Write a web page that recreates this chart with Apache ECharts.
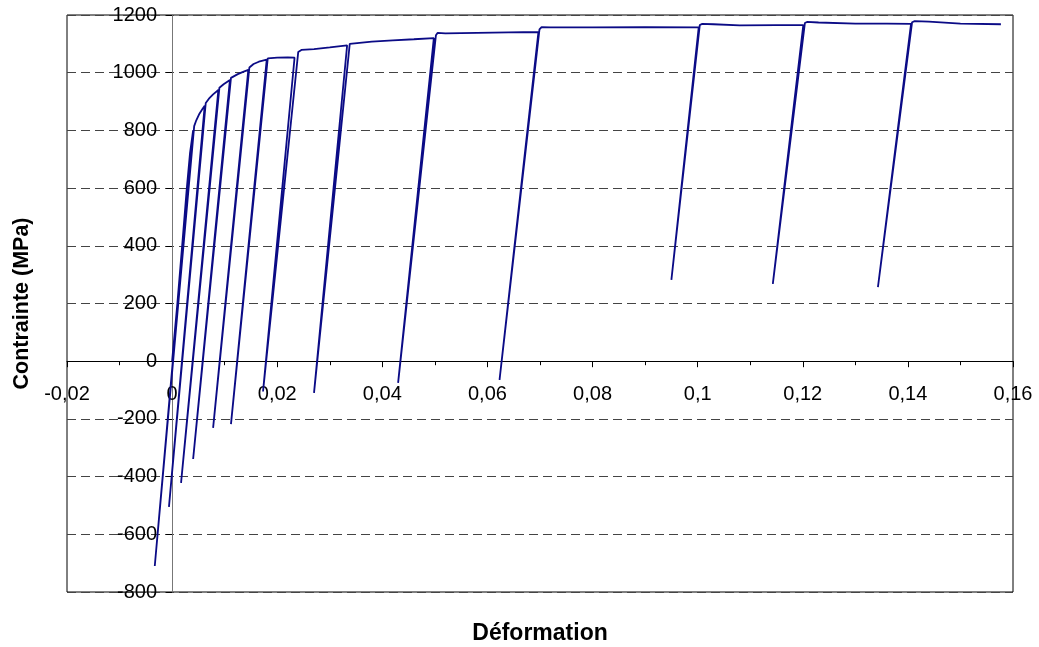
<!DOCTYPE html>
<html>
<head>
<meta charset="utf-8">
<script src="https://cdn.jsdelivr.net/npm/echarts@6/dist/echarts.min.js"></script>
<style>
html,body{margin:0;padding:0;background:#fff;}
#c{width:1039px;height:647px;}
</style>
</head>
<body>
<div id="c"></div>
<script>
// Strain (Déformation) and stress (Contrainte, MPa)
const strain = [
  0, 0.0010, 0.0020, 0.0028, 0.0034, 0.0040,
  -0.0033, 0.0042, 0.0046, 0.0052, 0.0058, 0.0062,
  -0.0006, 0.0064, 0.0070, 0.0078, 0.0088,
  0.0017, 0.0090, 0.0098, 0.0110,
  0.0040, 0.0112, 0.0125, 0.0135, 0.0145,
  0.0078, 0.0147, 0.0155, 0.0165, 0.0180,
  0.0112, 0.0182, 0.0200, 0.0220, 0.0233,
  0.0173, 0.0240, 0.0246, 0.0270, 0.0300, 0.0333,
  0.0270, 0.0338, 0.0341, 0.0380, 0.0420, 0.0460, 0.0498,
  0.0430, 0.0502, 0.0505, 0.0520, 0.0580, 0.0640, 0.0697,
  0.0623, 0.0699, 0.0703, 0.0720, 0.0800, 0.0900, 0.1002,
  0.0950, 0.1004, 0.1008, 0.1030, 0.1080, 0.1150, 0.1201,
  0.1143, 0.1204, 0.1208, 0.1230, 0.1300, 0.1360, 0.1406,
  0.1343, 0.1408, 0.1413, 0.1440, 0.1500, 0.1577
];
const stress = [
  0, 200, 420, 600, 720, 800,
  -710, 815, 835, 858, 875, 885,
  -505, 895, 910, 925, 940,
  -422, 948, 960, 975,
  -339, 982, 995, 1003, 1010,
  -231, 1018, 1030, 1038, 1045,
  -218, 1050, 1052, 1053, 1052,
  -105, 1072, 1079, 1082, 1088, 1095,
  -110, 1100, 1106, 1108, 1112, 1116, 1120,
  -75, 1130, 1138, 1136, 1138, 1140, 1141,
  -65, 1150, 1158, 1157, 1157, 1158, 1157,
  282, 1165, 1169, 1168, 1164, 1165, 1165,
  268, 1172, 1176, 1174, 1170, 1170, 1169,
  257, 1175, 1179, 1177, 1170, 1168
];
const xAxisTitle = 'Déformation';
const yAxisTitle = 'Contrainte (MPa)';
const X_MIN = -0.02, X_MAX = 0.16, X_STEP = 0.02;
const Y_MIN = -800, Y_MAX = 1200, Y_STEP = 200;

const points = strain.map((x, i) => [x, stress[i]]);
const FONT = '"Liberation Sans", Arial, sans-serif';
const fmtX = v => (Math.abs(v) < 1e-12 ? '0' : String(+v.toFixed(4)).replace('.', ','));
const fmtY = v => String(Math.round(v));

// plot box in pixels
const W = 1039, H = 647;
const L = 67, R = 26, T = 15, B = 55;
const plotW = W - L - R, plotH = H - T - B;
// pixel position of the zero lines (where the axes cross)
const zeroX = L + (0 - X_MIN) / (X_MAX - X_MIN) * plotW;
const zeroY = T + (Y_MAX - 0) / (Y_MAX - Y_MIN) * plotH;

const labelStyle = {fontSize: 20, color: '#000', fontFamily: FONT,
                    showMinLabel: true, showMaxLabel: true, hideOverlap: false};
const hidden = {show: false};

const chart = echarts.init(document.getElementById('c'), null, {renderer: 'canvas'});
chart.setOption({
  animation: false,
  backgroundColor: '#ffffff',
  grid: [
    {left: L, right: R, top: T, bottom: B, containLabel: false, outerBoundsMode: 'none',
     show: true, borderColor: '#000', borderWidth: 1, backgroundColor: 'transparent'},
    // label band for x axis (its bottom edge sits on the y = 0 line)
    {left: L, right: R, top: T, height: zeroY - T, containLabel: false, outerBoundsMode: 'none'},
    // label band for y axis (its left edge sits on the x = 0 line)
    {left: zeroX, right: R, top: T, bottom: B, containLabel: false, outerBoundsMode: 'none'}
  ],
  xAxis: [{
    gridIndex: 0, type: 'value', min: X_MIN, max: X_MAX, interval: X_STEP,
    axisLine: {show: true, onZero: true, lineStyle: {color: '#000', width: 1}},
    axisTick: {show: true, inside: false, length: 6, lineStyle: {color: '#000'}},
    minorTick: {show: true, splitNumber: 2, length: 4, lineStyle: {color: '#000'}},
    splitLine: hidden, axisLabel: hidden
  }, {
    gridIndex: 1, type: 'value', min: X_MIN, max: X_MAX, interval: X_STEP, position: 'bottom',
    axisLine: {show: false, onZero: false}, axisTick: hidden, splitLine: hidden,
    axisLabel: Object.assign({formatter: fmtX, margin: 23}, labelStyle),
    name: xAxisTitle, nameLocation: 'middle', nameGap: 622 - zeroY,
    nameTextStyle: {fontSize: 23, fontWeight: 'bold', color: '#000', fontFamily: FONT}
  }, {
    gridIndex: 2, type: 'value', min: 0, max: X_MAX, show: false
  }],
  yAxis: [{
    gridIndex: 0, type: 'value', min: Y_MIN, max: Y_MAX, interval: Y_STEP,
    axisLine: {show: true, onZero: true, lineStyle: {color: '#777', width: 1}},
    axisTick: {show: true, inside: false, length: 6, lineStyle: {color: '#000'}},
    splitLine: {show: true, lineStyle: {color: '#444', width: 1, type: [9, 5]}},
    axisLabel: hidden
  }, {
    gridIndex: 1, type: 'value', min: 0, max: Y_MAX, show: false
  }, {
    gridIndex: 2, type: 'value', min: Y_MIN, max: Y_MAX, interval: Y_STEP, position: 'left',
    axisLine: {show: false, onZero: false}, axisTick: hidden, splitLine: hidden,
    axisLabel: Object.assign({formatter: fmtY, margin: 15}, labelStyle),
    name: yAxisTitle, nameLocation: 'middle', nameGap: zeroX - 33,
    nameTextStyle: {fontSize: 21.5, fontWeight: 'bold', color: '#000', fontFamily: FONT}
  }],
  series: [{
    type: 'line', xAxisIndex: 0, yAxisIndex: 0, data: points, showSymbol: false, symbol: 'none',
    lineStyle: {color: '#0b0b86', width: 1.8}, z: 3
  }]
});
</script>
</body>
</html>
